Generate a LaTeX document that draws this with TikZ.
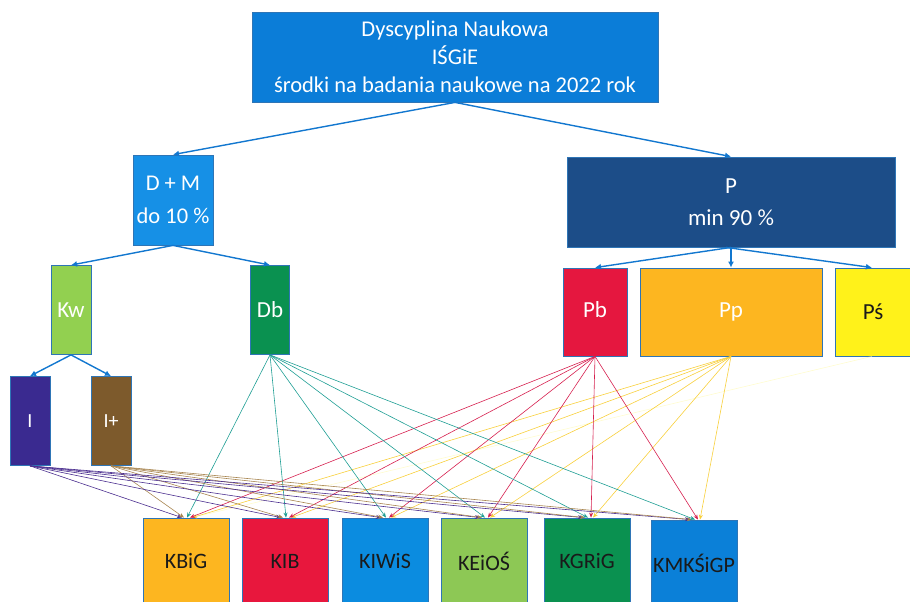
\documentclass[tikz,border=0pt]{standalone}
\usepackage{fontspec}
\setmainfont{Carlito}
\usetikzlibrary{arrows.meta}

\definecolor{topblue}{HTML}{0B7DD8}
\definecolor{dmblue}{HTML}{1690E6}
\definecolor{pnavy}{HTML}{1C4D88}
\definecolor{kwgreen}{HTML}{92D050}
\definecolor{dbgreen}{HTML}{0A9150}
\definecolor{pbred}{HTML}{E5173F}
\definecolor{pporange}{HTML}{FDB620}
\definecolor{psyellow}{HTML}{FFF21A}
\definecolor{ipurple}{HTML}{3A2A90}
\definecolor{ibrown}{HTML}{7D5A2C}
\definecolor{kibred}{HTML}{E8173D}
\definecolor{kiwisblue}{HTML}{0B8CE0}
\definecolor{keiosgreen}{HTML}{8DC855}
\definecolor{kmkblue}{HTML}{0B80D8}
\definecolor{boxline}{HTML}{2E75B6}
\definecolor{arrowblue}{HTML}{1277CF}
\definecolor{dbline}{HTML}{1E9E94}
\definecolor{pbline}{HTML}{D6204F}
\definecolor{ppline}{HTML}{F8D03C}
\definecolor{iline}{HTML}{4B2E8F}
\definecolor{ipline}{HTML}{A88550}
\definecolor{textdark}{HTML}{1A1A1A}

\begin{document}
\begin{tikzpicture}[x=1pt, y=-1pt,
    box/.style={draw=boxline, line width=0.8pt, inner sep=0pt, text=white, align=center},
    dept/.style={box, minimum width=86pt, minimum height=88pt, text=textdark, font=\fontsize{22}{26}\selectfont},
    main/.style={draw=arrowblue, line width=1.4pt, -{Latex[length=6pt,width=6pt]}},
    link/.style={line width=0.6pt, -{Stealth[length=5pt,width=4pt]}}]

    \useasboundingbox (0, 0) rectangle (910, 602);

    \node[box, fill=topblue, minimum width=406pt, minimum height=90pt, font=\fontsize{22.5}{28}\selectfont] (top) at (455, 57)
        {Dyscyplina Naukowa\\IŚGiE\\środki na badania naukowe na 2022 rok};

    \node[box, fill=dmblue, minimum width=80pt, minimum height=90pt, font=\fontsize{22.5}{33}\selectfont] (dm) at (173, 200) {D + M\\do 10 \%};
    \node[box, fill=pnavy, minimum width=328pt, minimum height=90pt, font=\fontsize{23}{32}\selectfont] (p) at (731, 202) {P\\min 90 \%};

    \node[box, fill=kwgreen, minimum width=40pt, minimum height=89pt, font=\fontsize{23}{26}\selectfont] (kw) at (71, 310) {Kw};
    \node[box, fill=dbgreen, minimum width=39pt, minimum height=89pt, font=\fontsize{23}{26}\selectfont] (db) at (270, 310) {Db};
    \node[box, fill=pbred, minimum width=64pt, minimum height=88pt, font=\fontsize{23}{26}\selectfont] (pb) at (595, 312) {\raisebox{4pt}{Pb}};
    \node[box, fill=pporange, minimum width=182pt, minimum height=88pt, font=\fontsize{23}{26}\selectfont] (pp) at (731, 312) {\raisebox{-3pt}{Pp}};
    \node[box, fill=psyellow, minimum width=84pt, minimum height=88pt, text=textdark, font=\fontsize{23}{26}\selectfont] (ps) at (877, 312) {\hspace*{-8pt}\raisebox{-3pt}{Pś}};

    \node[box, fill=ipurple, minimum width=40pt, minimum height=89pt, font=\fontsize{20}{24}\selectfont] (i) at (30, 421) {I};
    \node[box, fill=ibrown, minimum width=40pt, minimum height=89pt, font=\fontsize{20}{24}\selectfont] (iplus) at (111, 421) {I+};

    \node[dept, fill=pporange] (kbig) at (186, 562) {\raisebox{2pt}{KBiG}};
    \node[dept, fill=kibred] (kib) at (285, 562) {\raisebox{2pt}{KIB}};
    \node[dept, fill=kiwisblue] (kiwis) at (385, 562) {\raisebox{2pt}{KIWiS}};
    \node[dept, fill=keiosgreen] (keios) at (484, 562) {\raisebox{2pt}{KEiOŚ}};
    \node[dept, fill=dbgreen] (kgrig) at (587, 562) {\raisebox{2pt}{KGRiG}};
    \node[dept, fill=kmkblue] (kmk) at (694, 564) {\raisebox{2pt}{KMKŚiGP}};

    \draw[main] (top.south) -- (dm.north);
    \draw[main] (top.south) -- (p.north);
    \draw[main] (dm.south) -- (kw.north);
    \draw[main] (dm.south) -- (db.north);
    \draw[main] (p.south) -- (pb.north);
    \draw[main] (p.south) -- (pp.north);
    \draw[main] ([xshift=-5pt]p.south) -- ([xshift=-5pt]ps.north);
    \draw[main] (kw.south) -- (i.north);
    \draw[main] (kw.south) -- (iplus.north);

    \draw[link, draw=psyellow!35, opacity=0.6] ([xshift=-5pt]ps.south) -- ([xshift=6pt]kbig.north);

    \foreach \dept in {kbig, kib, kiwis, keios, kgrig, kmk} {
        \draw[link, draw=iline] (i.south) -- ([xshift=-4pt]\dept.north);
        \draw[link, draw=ipline] (iplus.south) -- ([xshift=-2pt]\dept.north);
        \draw[link, draw=ppline] (pp.south) -- ([xshift=6pt]\dept.north);
        \draw[link, draw=dbline] (db.south) -- ([xshift=1pt]\dept.north);
        \draw[link, draw=pbline] (pb.south) -- ([xshift=4pt]\dept.north);
    }

\end{tikzpicture}
\end{document}
